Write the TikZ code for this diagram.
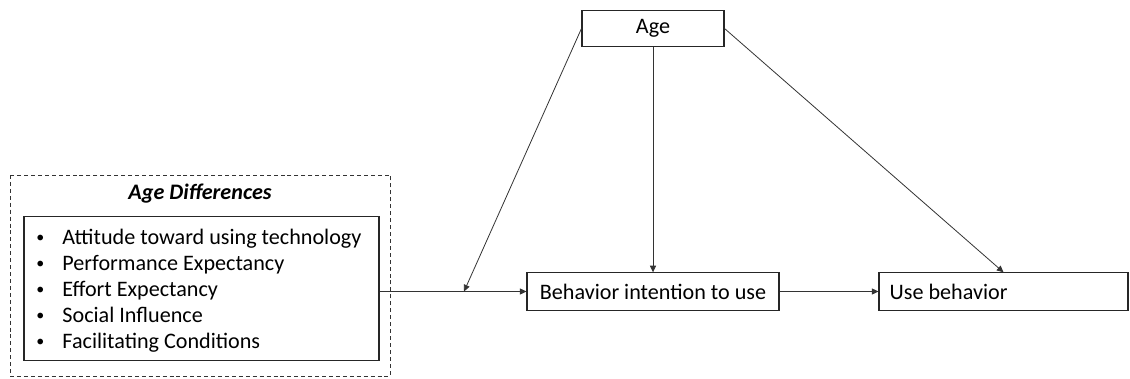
\documentclass[tikz,border=0pt]{standalone}
\usepackage{fontspec}
\setmainfont{Carlito}
\usetikzlibrary{arrows.meta}
\begin{document}
\begin{tikzpicture}[x=0.75pt,y=-0.75pt,
  line width=0.7pt,
  every node/.style={font=\fontsize{16.6}{20}\selectfont},
  box/.style={draw=black!85, line width=0.8pt, inner sep=0pt},
  link/.style={draw=black!80, line width=0.6pt, -{Triangle[length=5pt,width=4.6pt]}},
  plainlink/.style={draw=black!80, line width=0.6pt}]
\useasboundingbox (0,0) rectangle (1130,378);

% group frame with its title
\draw[black!80, line width=0.7pt, dash pattern=on 3pt off 2.2pt] (10,175) rectangle (390,376);
\node[font=\fontsize{16.6}{20}\selectfont\bfseries\itshape] (title) at (200,194) {Age Differences};

% factor list
\node[box, minimum width=266.25pt, minimum height=107.5pt] (list) at (201.5,288.5) {};
\foreach \t [count=\i] in {Attitude toward using technology, Performance Expectancy, Effort Expectancy, Social Influence, Facilitating Conditions}
  \node[anchor=base west, inner sep=0pt] (item\i) at (36,{244+26*(\i-1)})
    {\makebox[19.5pt][l]{\raisebox{1pt}{\fontsize{12}{12}\selectfont\textbullet}}\t};

% model constructs
\node[box, minimum width=106.5pt, minimum height=27pt] (age) at (653,28.5) {Age};
\node[box, minimum width=189pt, minimum height=28pt] (bi) at (653,291.5) {Behavior intention to use};
\node[box, minimum width=186.75pt, minimum height=28pt] (use) at (1003.5,291.5)
  {\makebox[170.75pt][l]{Use behavior}};

% paths
\coordinate (mod) at (464,291.5);
\draw[plainlink] (list.east |- bi.west) -- (mod);
\draw[link] (mod) -- (bi.west);
\draw[link] (bi.east) -- (use.west);
\draw[link] (age.west) -- (mod);
\draw[link] (age.south) -- (bi.north);
\draw[link] (age.east) -- (use.north);
\end{tikzpicture}
\end{document}
